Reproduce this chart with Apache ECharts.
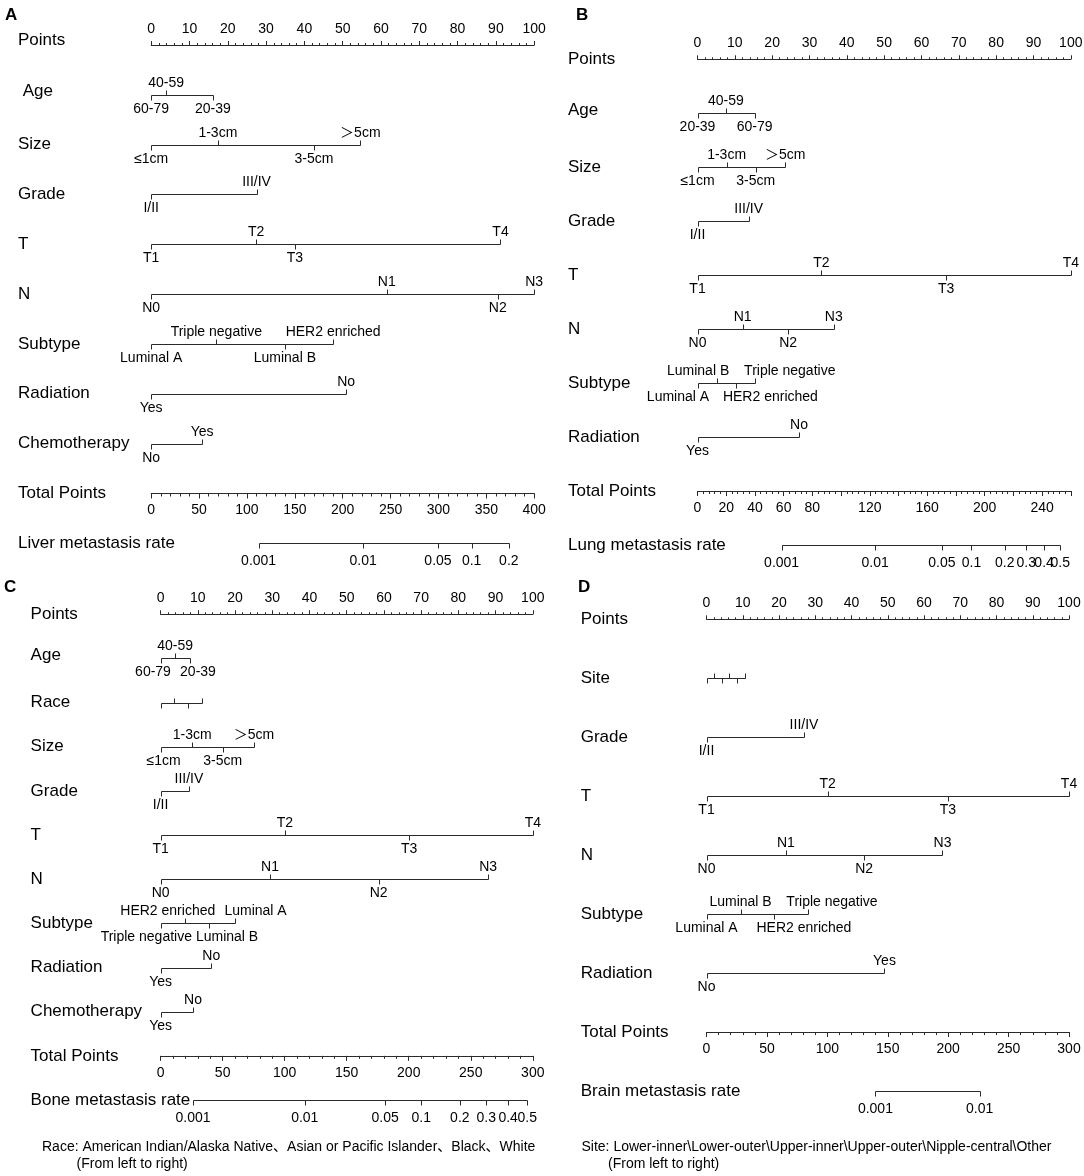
<!DOCTYPE html>
<html><head><meta charset="utf-8">
<script src="https://cdn.jsdelivr.net/npm/echarts@6/dist/echarts.min.js"></script>
<style>html,body{margin:0;padding:0;background:#fff}#c{width:1084px;height:1176px}</style>
</head><body><div id="c"></div>
<script>
// ================= DATA =================
const POINT_LABELS = [0, 10, 20, 30, 40, 50, 60, 70, 80, 90, 100];

// ---- Panel A : liver ----
const A_rows = ['Points', ' Age', 'Size', 'Grade', 'T', 'N', 'Subtype', 'Radiation', 'Chemotherapy', 'Total Points', 'Liver metastasis rate'];
const A_age = ['60-79', '40-59', '20-39'];
const A_age_pts = [0, 3.9, 16.1];
const A_size = ['≤1cm', '1-3cm', '3-5cm', '＞5cm'];
const A_size_pts = [0, 17.4, 42.5, 54.6];
const A_grade = ['I/II', 'III/IV'];
const A_grade_pts = [0, 27.5];
const A_t = ['T1', 'T2', 'T3', 'T4'];
const A_t_pts = [0, 27.4, 37.5, 91.2];
const A_n = ['N0', 'N1', 'N2', 'N3'];
const A_n_pts = [0, 61.5, 90.5, 100];
const A_sub = ['Luminal A', 'Triple negative', 'Luminal B', 'HER2 enriched'];
const A_sub_pts = [0, 17.0, 34.9, 47.5];
const A_rad = ['Yes', 'No'];
const A_rad_pts = [0, 50.9];
const A_chemo = ['No', 'Yes'];
const A_chemo_pts = [0, 13.3];
const A_total_max = 400;
const A_total_labels = [0, 50, 100, 150, 200, 250, 300, 350, 400];
const A_rate_labels = ['0.001', '0.01', '0.05', '0.1', '0.2'];
const A_rate_pts = [112.2, 221.4, 299.5, 334.7, 373.5];

// ---- Panel B : lung ----
const B_rows = ['Points', 'Age', 'Size', 'Grade', 'T', 'N', 'Subtype', 'Radiation', 'Total Points', 'Lung metastasis rate'];
const B_age = ['20-39', '40-59', '60-79'];
const B_age_pts = [0, 7.6, 15.3];
const B_size = ['≤1cm', '1-3cm', '3-5cm', '＞5cm'];
const B_size_pts = [0, 7.8, 15.6, 23.5];
const B_grade = ['I/II', 'III/IV'];
const B_grade_pts = [0, 13.7];
const B_t = ['T1', 'T2', 'T3', 'T4'];
const B_t_pts = [0, 33.2, 66.6, 100];
const B_n = ['N0', 'N1', 'N2', 'N3'];
const B_n_pts = [0, 12.1, 24.3, 36.5];
const B_sub = ['Luminal A', 'Luminal B', 'HER2 enriched', 'Triple negative'];
const B_sub_pts = [0, 5.2, 10.2, 15.5];
const B_rad = ['Yes', 'No'];
const B_rad_pts = [0, 27.2];
const B_total_max = 260;
const B_total_labels = [0, 20, 40, 60, 80, 120, 160, 200, 240];
const B_rate_labels = ['0.001', '0.01', '0.05', '0.1', '0.2', '0.3', '0.4', '0.5'];
const B_rate_pts = [58.6, 123.7, 170.2, 190.8, 214.0, 229.0, 241.4, 252.7];

// ---- Panel C : bone ----
const C_rows = ['Points', 'Age', 'Race', 'Size', 'Grade', 'T', 'N', 'Subtype', 'Radiation', 'Chemotherapy', 'Total Points', 'Bone metastasis rate'];
const C_age = ['60-79', '40-59', '20-39'];
const C_age_pts = [0, 3.9, 8.0];
const C_race = ['American Indian/Alaska Native', 'Asian or Pacific Islander', 'Black', 'White'];
const C_race_pts = [0, 3.6, 7.3, 11.0];
const C_size = ['≤1cm', '1-3cm', '3-5cm', '＞5cm'];
const C_size_pts = [0, 8.5, 16.7, 25.1];
const C_grade = ['I/II', 'III/IV'];
const C_grade_pts = [0, 7.6];
const C_t = ['T1', 'T2', 'T3', 'T4'];
const C_t_pts = [0, 33.4, 66.8, 100];
const C_n = ['N0', 'N1', 'N2', 'N3'];
const C_n_pts = [0, 29.4, 58.6, 88.0];
const C_sub = ['Triple negative', 'HER2 enriched', 'Luminal B', 'Luminal A'];
const C_sub_pts = [0, 6.6, 13.1, 19.9];
const C_rad = ['Yes', 'No'];
const C_rad_pts = [0, 13.6];
const C_chemo = ['Yes', 'No'];
const C_chemo_pts = [0, 8.7];
const C_total_max = 300;
const C_total_labels = [0, 50, 100, 150, 200, 250, 300];
const C_rate_labels = ['0.001', '0.01', '0.05', '0.1', '0.2', '0.3', '0.4', '0.5'];
const C_rate_pts = [26.1, 116.2, 181.0, 210.1, 241.2, 262.5, 280.1, 295.5];

// ---- Panel D : brain ----
const D_rows = ['Points', 'Site', 'Grade', 'T', 'N', 'Subtype', 'Radiation', 'Total Points', 'Brain metastasis rate'];
const D_site = ['Lower-inner', 'Lower-outer', 'Upper-inner', 'Upper-outer', 'Nipple-central', 'Other'];
const D_site_pts = [0, 2.1, 4.2, 6.3, 8.4, 10.6];
const D_grade = ['I/II', 'III/IV'];
const D_grade_pts = [0, 26.9];
const D_t = ['T1', 'T2', 'T3', 'T4'];
const D_t_pts = [0, 33.4, 66.6, 100];
const D_n = ['N0', 'N1', 'N2', 'N3'];
const D_n_pts = [0, 21.9, 43.5, 65.1];
const D_sub = ['Luminal A', 'Luminal B', 'HER2 enriched', 'Triple negative'];
const D_sub_pts = [0, 9.4, 18.6, 28.0];
const D_rad = ['No', 'Yes'];
const D_rad_pts = [0, 49.1];
const D_total_max = 300;
const D_total_labels = [0, 50, 100, 150, 200, 250, 300];
const D_rate_labels = ['0.001', '0.01'];
const D_rate_pts = [139.8, 226.1];

const NOTE_C = ['Race: American Indian/Alaska Native、Asian or Pacific Islander、Black、White', '(From left to right)'];
const NOTE_D = ['Site: Lower-inner\\Lower-outer\\Upper-inner\\Upper-outer\\Nipple-central\\Other', '(From left to right)'];

// ================= STRUCTURE =================
const PANELS = [
  { rows: A_rows, vars: [[A_age, A_age_pts], [A_size, A_size_pts], [A_grade, A_grade_pts], [A_t, A_t_pts], [A_n, A_n_pts], [A_sub, A_sub_pts], [A_rad, A_rad_pts], [A_chemo, A_chemo_pts]],
    totalMax: A_total_max, totalLabels: A_total_labels, rateLabels: A_rate_labels, ratePts: A_rate_pts },
  { rows: B_rows, vars: [[B_age, B_age_pts], [B_size, B_size_pts], [B_grade, B_grade_pts], [B_t, B_t_pts], [B_n, B_n_pts], [B_sub, B_sub_pts], [B_rad, B_rad_pts]],
    totalMax: B_total_max, totalLabels: B_total_labels, rateLabels: B_rate_labels, ratePts: B_rate_pts },
  { rows: C_rows, vars: [[C_age, C_age_pts], [C_race, C_race_pts], [C_size, C_size_pts], [C_grade, C_grade_pts], [C_t, C_t_pts], [C_n, C_n_pts], [C_sub, C_sub_pts], [C_rad, C_rad_pts], [C_chemo, C_chemo_pts]],
    totalMax: C_total_max, totalLabels: C_total_labels, rateLabels: C_rate_labels, ratePts: C_rate_pts },
  { rows: D_rows, vars: [[D_site, D_site_pts], [D_grade, D_grade_pts], [D_t, D_t_pts], [D_n, D_n_pts], [D_sub, D_sub_pts], [D_rad, D_rad_pts]],
    totalMax: D_total_max, totalLabels: D_total_labels, rateLabels: D_rate_labels, ratePts: D_rate_pts }
];

// ================= LAYOUT / STYLE =================
const LAYOUT = [
  { letter: 'A', letterX: 5, letterY: 16, left: 151.2, right: 534.2, top: 45, bottom: 543.3, labelX: 18, totalInterval: 50 },
  { letter: 'B', letterX: 576, letterY: 16, left: 697.5, right: 1070.8, top: 59.3, bottom: 545, labelX: 568, totalInterval: 20 },
  { letter: 'C', letterX: 4, letterY: 588, left: 160.6, right: 532.8, top: 614.3, bottom: 1100, labelX: 30.6, totalInterval: 50 },
  { letter: 'D', letterX: 578, letterY: 588, left: 706.5, right: 1069, top: 619.3, bottom: 1091, labelX: 580.7, totalInterval: 50 }
];
// upward nudges (px) for some row titles
const ROW_LABEL_UP = [{ 0: 5, 1: 4 }, { 1: 3 }, { 1: 3 }, {}];
// horizontal label nudges (px) per panel / variable index, to mimic overlap avoidance
const LABEL_SHIFT = [
  {},
  { 5: [-19.5, -18.8, 34.8, 34.4] },
  { 0: [-7.6, 0, 7.6], 2: [3, 0, 0, 0], 6: [-14.3, -17.4, 17.7, 20.9] },
  { 4: [0, 0, 30, 24] }
];
const HIDE_LABELS = [[], [], [1], [0]];
const LINE = '#2a2a2a';
const TXT = '#000';
const FONT = "'Liberation Sans', Arial, 'Noto Sans CJK SC', sans-serif";

// ================= BUILD =================
const grids = [], xAxes = [], yAxes = [], series = [], graphics = [];

PANELS.forEach((P, pi) => {
  const L = LAYOUT[pi];
  const height = L.bottom - L.top;
  const step = height / (P.rows.length - 1);
  grids.push({ left: L.left, top: L.top, width: L.right - L.left, height: height, outerBoundsMode: 'none', containLabel: false });

  // Points axis (top)
  xAxes.push({
    gridIndex: pi, type: 'value', position: 'top', min: 0, max: 100, interval: 10,
    axisLine: { show: true, lineStyle: { color: LINE, width: 1 } },
    axisTick: { show: true, length: 4, lineStyle: { color: LINE, width: 1 } },
    minorTick: { show: true, splitNumber: 5, length: 2, lineStyle: { color: LINE, width: 1 } },
    splitLine: { show: false }, minorSplitLine: { show: false },
    axisLabel: { margin: 9, fontSize: 14, color: TXT, fontFamily: FONT,
      formatter: v => POINT_LABELS.indexOf(v) >= 0 ? String(v) : '' }
  });
  // Total points axis (bottom, moved up one row)
  xAxes.push({
    gridIndex: pi, type: 'value', position: 'bottom', offset: -step, min: 0, max: P.totalMax, interval: L.totalInterval,
    axisLine: { show: true, lineStyle: { color: LINE, width: 1 } },
    axisTick: { show: true, length: 5, lineStyle: { color: LINE, width: 1 } },
    minorTick: { show: true, splitNumber: 5, length: 3, lineStyle: { color: LINE, width: 1 } },
    splitLine: { show: false }, minorSplitLine: { show: false },
    axisLabel: { margin: 10, fontSize: 14, color: TXT, fontFamily: FONT, showMinLabel: true, showMaxLabel: true,
      formatter: v => P.totalLabels.indexOf(v) >= 0 ? String(v) : '' }
  });
  const ups = ROW_LABEL_UP[pi];
  const rich = {};
  Object.keys(ups).forEach(k => {
    rich['u' + k] = { fontSize: 17, color: TXT, fontFamily: FONT, padding: [0, 0, ups[k] * 2, 0] };
  });
  yAxes.push({
    gridIndex: pi, type: 'category', data: P.rows, inverse: true, boundaryGap: false,
    axisLine: { show: false }, axisTick: { show: false }, splitLine: { show: false },
    axisLabel: { interval: 0, align: 'left', margin: L.left - L.labelX, fontSize: 17, color: TXT, fontFamily: FONT,
      rich: rich,
      formatter: (v, i) => ups[i] ? '{u' + i + '|' + v + '}' : v }
  });

  const shifts = LABEL_SHIFT[pi];
  const hidden = HIDE_LABELS[pi];

  // variable scales
  series.push({
    type: 'custom', coordinateSystem: 'cartesian2d', xAxisIndex: pi * 2, yAxisIndex: pi,
    silent: true, clip: false, animation: false,
    data: P.vars.map((v, vi) => [v[1][0], vi + 1]),
    renderItem: function (params, api) {
      const vi = params.dataIndex;
      const levels = P.vars[vi][0], pts = P.vars[vi][1];
      const row = vi + 1;
      const yy = Math.round(api.coord([0, row])[1]) + 0.5;
      const xs = pts.map(p => api.coord([p, row])[0]);
      const xmin = Math.min.apply(null, xs), xmax = Math.max.apply(null, xs);
      const order = pts.map((p, i) => i).sort((a, b) => pts[a] - pts[b]);
      const sh = shifts[vi] || [];
      const children = [{ type: 'line', shape: { x1: Math.round(xmin) + 0.5, y1: yy, x2: Math.round(xmax) + 0.5, y2: yy },
        style: { stroke: LINE, lineWidth: 1 } }];
      order.forEach((li, k) => {
        const up = k % 2 === 1;
        const x = Math.round(xs[li]) + 0.5;
        children.push({ type: 'line', shape: { x1: x, y1: yy, x2: x, y2: up ? yy - 5 : yy + 5 }, style: { stroke: LINE, lineWidth: 1 } });
        if (hidden.indexOf(vi) < 0) {
          children.push({ type: 'text', x: xs[li] + (sh[li] || 0), y: up ? yy - 12.5 : yy + 14,
            style: { text: levels[li], fill: TXT, font: '14px ' + FONT, align: 'center', verticalAlign: 'middle' } });
        }
      });
      return { type: 'group', children: children };
    }
  });

  // probability scale (positions on the total-points axis)
  const rateRow = P.rows.length - 1;
  series.push({
    type: 'custom', coordinateSystem: 'cartesian2d', xAxisIndex: pi * 2 + 1, yAxisIndex: pi,
    silent: true, clip: false, animation: false,
    data: [[P.ratePts[0], rateRow]],
    renderItem: function (params, api) {
      const yy = Math.round(api.coord([0, rateRow])[1]) + 0.5;
      const xs = P.ratePts.map(p => api.coord([p, rateRow])[0]);
      const children = [{ type: 'line', shape: { x1: Math.round(xs[0]) + 0.5, y1: yy, x2: Math.round(xs[xs.length - 1]) + 0.5, y2: yy },
        style: { stroke: LINE, lineWidth: 1 } }];
      xs.forEach((x0, i) => {
        const x = Math.round(x0) + 0.5;
        children.push({ type: 'line', shape: { x1: x, y1: yy, x2: x, y2: yy + 5 }, style: { stroke: LINE, lineWidth: 1 } });
        children.push({ type: 'text', x: x0, y: yy + 17.5,
          style: { text: P.rateLabels[i], fill: TXT, font: '14px ' + FONT, align: 'center', verticalAlign: 'middle' } });
      });
      return { type: 'group', children: children };
    }
  });

  graphics.push({ type: 'text', left: L.letterX, top: L.letterY - 9,
    style: { text: L.letter, fill: TXT, font: 'bold 17px ' + FONT } });
});

function note(lines, x1, x2, y) {
  graphics.push({ type: 'text', x: x1, y: y, style: { text: lines[0], fill: TXT, font: '14px ' + FONT, verticalAlign: 'middle' } });
  graphics.push({ type: 'text', x: x2, y: y + 17, style: { text: lines[1], fill: TXT, font: '14px ' + FONT, verticalAlign: 'middle' } });
}
note(NOTE_C, 42, 76.5, 1147);
note(NOTE_D, 581.5, 608, 1147);

const chart = echarts.init(document.getElementById('c'), null, { renderer: 'canvas' });
chart.setOption({
  backgroundColor: '#fff',
  animation: false,
  grid: grids, xAxis: xAxes, yAxis: yAxes, series: series, graphic: graphics
});
</script>
</body></html>
